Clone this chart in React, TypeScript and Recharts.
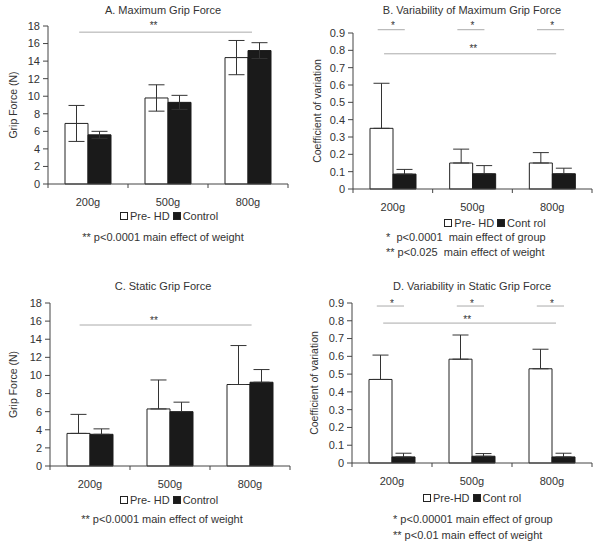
import React from 'react';
import { BarChart, Bar, XAxis, YAxis, ErrorBar, ReferenceLine, ReferenceDot } from 'recharts';

const categories = ['200g', '500g', '800g'];
const positions = [0.5, 1.5, 2.5];

const aPre = [6.9, 9.8, 14.4];
const aPreErr = [2.05, 1.5, 1.95];
const aCtl = [5.6, 9.3, 15.2];
const aCtlErr = [0.4, 0.8, 0.9];

const bPre = [0.35, 0.15, 0.15];
const bPreErr = [0.26, 0.08, 0.06];
const bCtl = [0.086, 0.088, 0.088];
const bCtlErr = [0.027, 0.047, 0.032];

const cPre = [3.6, 6.3, 9.0];
const cPreErr = [2.1, 3.2, 4.3];
const cCtl = [3.5, 6.0, 9.25];
const cCtlErr = [0.6, 1.05, 1.4];

const dPre = [0.47, 0.584, 0.53];
const dPreErr = [0.137, 0.136, 0.11];
const dCtl = [0.034, 0.038, 0.034];
const dCtlErr = [0.021, 0.015, 0.021];

const forceTicks = [0, 2, 4, 6, 8, 10, 12, 14, 16, 18];
const cvTicks = [0, 0.1, 0.2, 0.3, 0.4, 0.5, 0.6, 0.7, 0.8, 0.9];

const FONT = 'Arial, "Liberation Sans", sans-serif';
const TXT = '#333';
const SIG = '#aaa';

type Sig = { lines: { x1: number; x2: number; y: number }[]; stars: { x: number; y: number; t: string }[] };

const sigA: Sig = { lines: [{ x1: 0.39, x2: 2.55, y: 17.3 }], stars: [{ x: 1.32, y: 18.07, t: '**' }] };
const sigB: Sig = {
  lines: [
    { x1: 0.31, x2: 0.65, y: 0.919 },
    { x1: 1.31, x2: 1.65, y: 0.919 },
    { x1: 2.31, x2: 2.65, y: 0.919 },
    { x1: 0.39, x2: 2.55, y: 0.78 },
  ],
  stars: [
    { x: 0.5, y: 0.941, t: '*' },
    { x: 1.5, y: 0.941, t: '*' },
    { x: 2.5, y: 0.941, t: '*' },
    { x: 1.51, y: 0.808, t: '**' },
  ],
};
const sigC: Sig = { lines: [{ x1: 0.37, x2: 2.52, y: 15.57 }], stars: [{ x: 1.3, y: 16.1, t: '**' }] };
const sigD: Sig = {
  lines: [
    { x1: 0.31, x2: 0.65, y: 0.883 },
    { x1: 1.31, x2: 1.65, y: 0.883 },
    { x1: 2.31, x2: 2.65, y: 0.883 },
    { x1: 0.39, x2: 2.55, y: 0.787 },
  ],
  stars: [
    { x: 0.5, y: 0.899, t: '*' },
    { x: 1.5, y: 0.899, t: '*' },
    { x: 2.5, y: 0.899, t: '*' },
    { x: 1.44, y: 0.808, t: '**' },
  ],
};

function build(pre: number[], preErr: number[], ctl: number[], ctlErr: number[], both: boolean) {
  return categories.map((c, i) => ({
    cat: c,
    pos: positions[i],
    pre: pre[i],
    ctl: ctl[i],
    preErr: both ? preErr[i] : [0, preErr[i]],
    ctlErr: both ? ctlErr[i] : [0, ctlErr[i]],
  }));
}

const CatTick = (props: any) => {
  const { x, y, payload, index, visibleTicksCount, width } = props;
  const half = width / visibleTicksCount / 2;
  const axisY = y - 5;
  return (
    <g>
      <line x1={x - half} x2={x - half} y1={axisY} y2={axisY + 4} stroke="#444" />
      {index === visibleTicksCount - 1 && (
        <line x1={x + half} x2={x + half} y1={axisY} y2={axisY + 4} stroke="#444" />
      )}
      <text x={x} y={axisY + 22} textAnchor="middle" fontSize={11} fill={TXT} fontFamily={FONT}>
        {payload.value}
      </text>
    </g>
  );
};

type PanelProps = {
  data: any[];
  left: number;
  top: number;
  width: number;
  height: number;
  margin: { top: number; right: number; bottom: number; left: number };
  yWidth: number;
  domain: [number, number];
  ticks: number[];
  fmt?: (v: number) => string;
  yLabel: string;
  yDx: number;
  sig: Sig;
};

function Panel(p: PanelProps) {
  return (
    <div style={{ position: 'absolute', left: p.left, top: p.top }}>
      <BarChart width={p.width} height={p.height} data={p.data} margin={p.margin} barGap={0} barSize={23}>
        <XAxis
          dataKey="cat"
          height={30}
          tickLine={false}
          tickSize={5}
          tickMargin={0}
          axisLine={{ stroke: '#444' }}
          tick={<CatTick />}
          interval={0}
        />
        <XAxis
          xAxisId="n"
          dataKey="pos"
          type="number"
          domain={[0, 3]}
          ticks={[0, 1, 2, 3]}
          padding={{ left: 0, right: 0 }}
          hide
          allowDataOverflow
        />
        <YAxis
          width={p.yWidth}
          domain={p.domain}
          ticks={p.ticks}
          interval={0}
          tickSize={5}
          tickMargin={3}
          tickFormatter={p.fmt}
          axisLine={{ stroke: '#444' }}
          tickLine={{ stroke: '#444' }}
          tick={{ fontSize: 11, fill: TXT, fontFamily: FONT }}
          label={{
            value: p.yLabel,
            angle: -90,
            position: 'center',
            dx: p.yDx,
            fontSize: 10.5,
            fill: TXT,
            fontFamily: FONT,
          }}
        />
        <Bar dataKey="pre" fill="#fff" stroke="#222" strokeWidth={1} isAnimationActive={false}>
          <ErrorBar dataKey="preErr" width={8} stroke="#333" strokeWidth={1} direction="y" isAnimationActive={false} />
        </Bar>
        <Bar dataKey="ctl" fill="#1a1a1a" stroke="#1a1a1a" strokeWidth={1} isAnimationActive={false}>
          <ErrorBar dataKey="ctlErr" width={8} stroke="#333" strokeWidth={1} direction="y" isAnimationActive={false} />
        </Bar>
        {p.sig.lines.map((l, i) => (
          <ReferenceLine
            key={'l' + i}
            xAxisId="n"
            segment={[
              { x: l.x1, y: l.y },
              { x: l.x2, y: l.y },
            ]}
            stroke={SIG}
            strokeWidth={1}
            ifOverflow="visible"
          />
        ))}
        {p.sig.stars.map((s, i) => (
          <ReferenceDot
            key={'s' + i}
            xAxisId="n"
            x={s.x}
            y={s.y}
            r={0}
            fill="none"
            stroke="none"
            ifOverflow="visible"
            label={{ value: s.t, position: 'center', fontSize: 10, fill: TXT, fontFamily: FONT }}
          />
        ))}
      </BarChart>
    </div>
  );
}

const cvFmt = (v: number) => (v === 0 ? '0' : v.toFixed(1));

function Txt({ x, y, w, children, align = 'center' }: any) {
  return (
    <div
      style={{
        position: 'absolute',
        left: align === 'center' ? x - w / 2 : x,
        top: y - 7,
        width: w,
        height: 14,
        lineHeight: '14px',
        textAlign: align,
        fontSize: 11,
        color: TXT,
        fontFamily: FONT,
        whiteSpace: 'nowrap',
      }}
    >
      {children}
    </div>
  );
}

function Legend({ x, y, pre, ctl }: { x: number; y: number; pre: string; ctl: string }) {
  const sq = (fill: string) => (
    <span
      style={{
        display: 'inline-block',
        width: 6,
        height: 6,
        border: '1px solid #222',
        background: fill,
        marginRight: 2,
        verticalAlign: 'middle',
        position: 'relative',
        top: -1,
      }}
    />
  );
  return (
    <Txt x={x} y={y} w={200}>
      {sq('#fff')}
      {pre}
      <span style={{ display: 'inline-block', width: 3 }} />
      {sq('#1a1a1a')}
      {ctl}
    </Txt>
  );
}

export default function App() {
  return (
    <div style={{ position: 'absolute', left: 0, top: 0, width: 600, height: 545, background: '#fff', overflow: 'hidden' }}>
      <Txt x={163} y={10} w={260}>A. Maximum Grip Force</Txt>
      <Txt x={472} y={10} w={260}>B. Variability of Maximum Grip Force</Txt>
      <Txt x={163} y={286} w={260}>C. Static Grip Force</Txt>
      <Txt x={472} y={286} w={260}>D. Variability in Static Grip Force</Txt>

      <Panel
        data={build(aPre, aPreErr, aCtl, aCtlErr, true)}
        left={0}
        top={0}
        width={300}
        height={220}
        margin={{ top: 26, right: 12, bottom: 6, left: 0 }}
        yWidth={48}
        domain={[0, 18]}
        ticks={forceTicks}
        yLabel="Grip Force (N)"
        yDx={-11}
        sig={sigA}
      />
      <Panel
        data={build(bPre, bPreErr, bCtl, bCtlErr, false)}
        left={300}
        top={0}
        width={300}
        height={220}
        margin={{ top: 33, right: 8, bottom: 1, left: 0 }}
        yWidth={53}
        domain={[0, 0.9]}
        ticks={cvTicks}
        fmt={cvFmt}
        yLabel="Coefficient of variation"
        yDx={-9}
        sig={sigB}
      />
      <Panel
        data={build(cPre, cPreErr, cCtl, cCtlErr, false)}
        left={0}
        top={270}
        width={300}
        height={230}
        margin={{ top: 33, right: 10, bottom: 4, left: 0 }}
        yWidth={50}
        domain={[0, 18]}
        ticks={forceTicks}
        yLabel="Grip Force (N)"
        yDx={-12}
        sig={sigC}
      />
      <Panel
        data={build(dPre, dPreErr, dCtl, dCtlErr, false)}
        left={300}
        top={270}
        width={300}
        height={230}
        margin={{ top: 33, right: 8, bottom: 7, left: 0 }}
        yWidth={52}
        domain={[0, 0.9]}
        ticks={cvTicks}
        fmt={cvFmt}
        yLabel="Coefficient of variation"
        yDx={-12}
        sig={sigD}
      />

      <Legend x={169} y={216} pre="Pre- HD" ctl="Control" />
      <Legend x={495} y={223} pre="Pre- HD" ctl="Cont rol" />
      <Legend x={169} y={500} pre="Pre- HD" ctl="Control" />
      <Legend x={472} y={498} pre="Pre-HD" ctl="Cont rol" />

      <Txt x={163} y={237} w={260}>** p&lt;0.0001 main effect of weight</Txt>
      <Txt x={386} y={237} w={210} align="left">*&nbsp; p&lt;0.0001&nbsp; main effect of group</Txt>
      <Txt x={386} y={252} w={210} align="left">** p&lt;0.025&nbsp; main effect of weight</Txt>
      <Txt x={162} y={519} w={260}>** p&lt;0.0001 main effect of weight</Txt>
      <Txt x={393} y={519} w={205} align="left">* p&lt;0.00001 main effect of group</Txt>
      <Txt x={393} y={535} w={205} align="left">** p&lt;0.01 main effect of weight</Txt>
    </div>
  );
}
